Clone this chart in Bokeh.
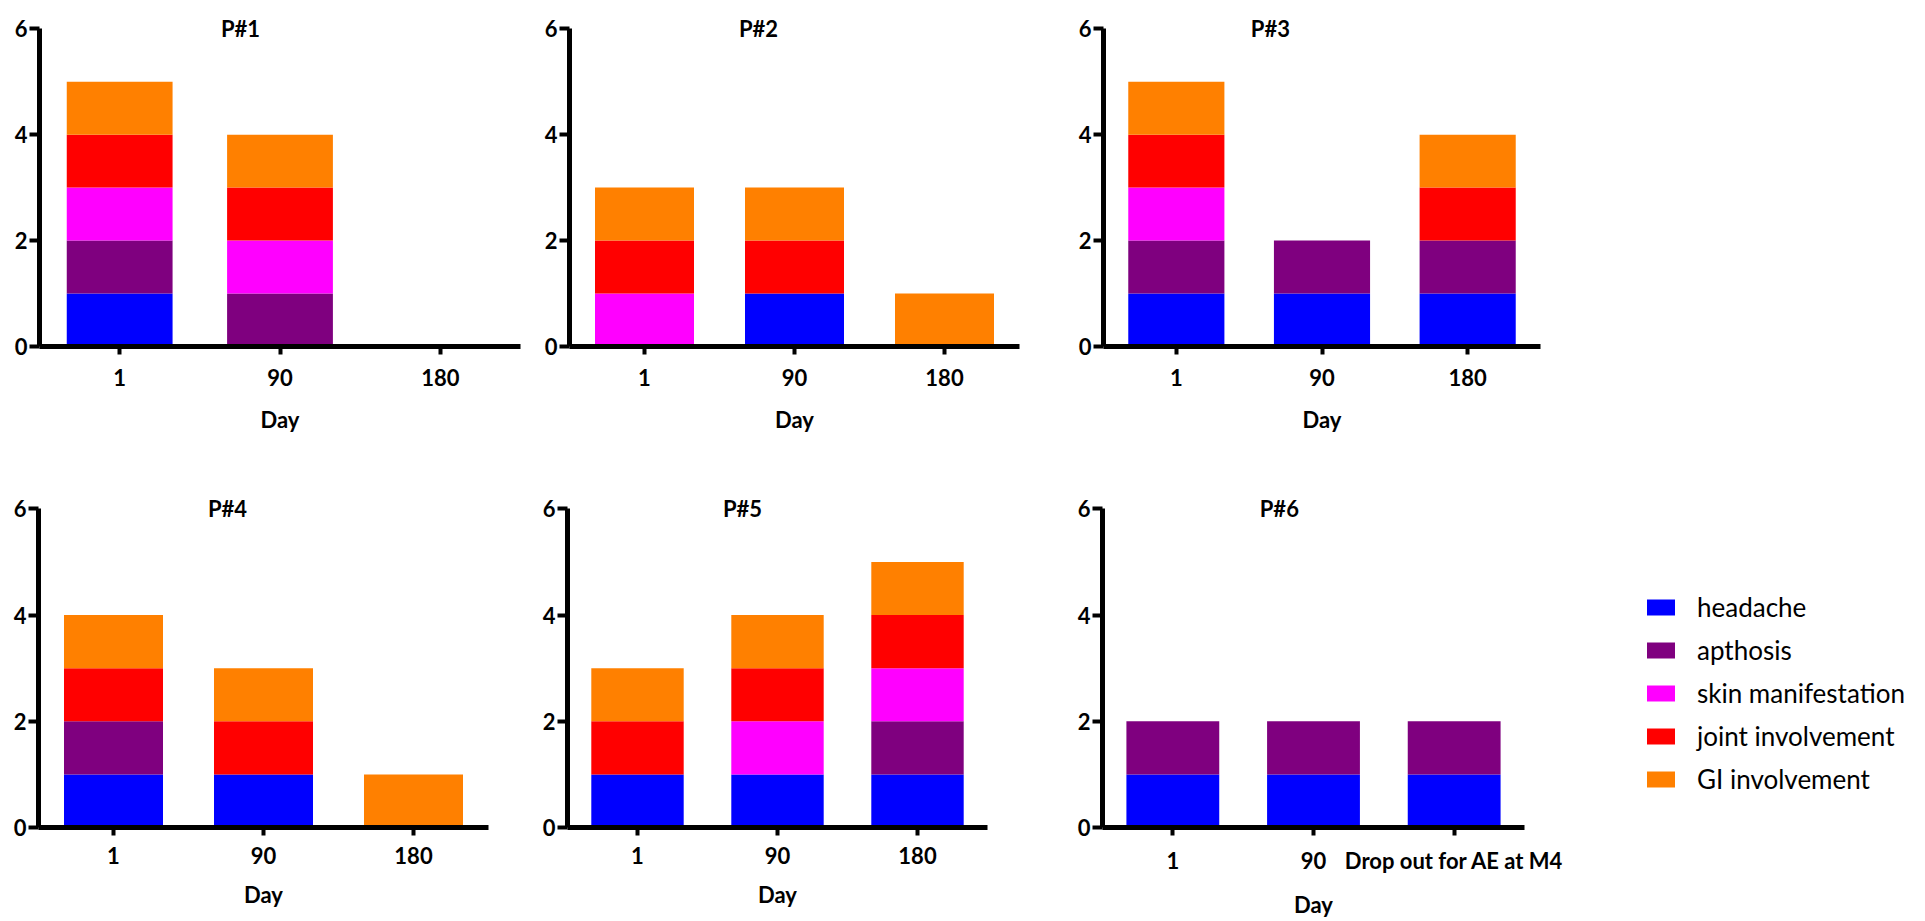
from bokeh.plotting import figure
from bokeh.models import FactorRange, Range1d, Label, Legend, LegendItem, FixedTicker, Spacer
from bokeh.layouts import row, column
from bokeh.embed import file_html
from bokeh.resources import INLINE

symptoms = ["headache", "apthosis", "skin manifestation", "joint involvement", "GI involvement"]
colors = ["#0000FF", "#7F007F", "#FF00FF", "#FF0000", "#FF8000"]
days = ["1", "90", "180"]
days_p6 = ["1", "90", "Drop out for AE at M4"]

# counts per symptom at each visit (day 1, 90, 180)
p1 = {"headache": [1, 0, 0], "apthosis": [1, 1, 0], "skin manifestation": [1, 1, 0],
      "joint involvement": [1, 1, 0], "GI involvement": [1, 1, 0]}
p2 = {"headache": [0, 1, 0], "apthosis": [0, 0, 0], "skin manifestation": [1, 0, 0],
      "joint involvement": [1, 1, 0], "GI involvement": [1, 1, 1]}
p3 = {"headache": [1, 1, 1], "apthosis": [1, 1, 1], "skin manifestation": [1, 0, 0],
      "joint involvement": [1, 0, 1], "GI involvement": [1, 0, 1]}
p4 = {"headache": [1, 1, 0], "apthosis": [1, 0, 0], "skin manifestation": [0, 0, 0],
      "joint involvement": [1, 1, 0], "GI involvement": [1, 1, 1]}
p5 = {"headache": [1, 1, 1], "apthosis": [0, 0, 1], "skin manifestation": [0, 1, 1],
      "joint involvement": [1, 1, 1], "GI involvement": [1, 1, 1]}
p6 = {"headache": [1, 1, 1], "apthosis": [1, 1, 1], "skin manifestation": [0, 0, 0],
      "joint involvement": [0, 0, 0], "GI involvement": [0, 0, 0]}

titles = ["P#1", "P#2", "P#3", "P#4", "P#5", "P#6"]
y_ticks = [0, 2, 4, 6]

FONT = "Lato"
YTOP = 6.25  # room above the 6 tick for the panel title


def style_bars_fig(p, title, title_x, lab_standoff, axlab_standoff):
    p.xgrid.grid_line_color = None
    p.ygrid.grid_line_color = None
    p.outline_line_color = None
    p.background_fill_color = "white"
    for ax in (p.xaxis[0], p.yaxis[0]):
        ax.axis_line_width = 5
        ax.axis_line_color = "black"
        ax.major_tick_line_width = 4
        ax.major_tick_line_color = "black"
        ax.major_tick_in = 0
        ax.minor_tick_line_color = None
        ax.major_label_text_font = FONT
        ax.major_label_text_font_style = "bold"
        ax.major_label_text_font_size = "22px"
        ax.major_label_text_color = "black"
    p.xaxis.major_tick_out = 8
    p.xaxis.major_label_standoff = lab_standoff
    p.xaxis.axis_label = "Day"
    p.xaxis.axis_label_text_font = FONT
    p.xaxis.axis_label_text_font_style = "bold"
    p.xaxis.axis_label_text_font_size = "22px"
    p.xaxis.axis_label_text_color = "black"
    p.xaxis.axis_label_standoff = axlab_standoff
    p.yaxis.ticker = FixedTicker(ticks=y_ticks)
    p.yaxis.bounds = (y_ticks[0], y_ticks[-1])
    p.yaxis.major_tick_out = 10
    p.yaxis.major_label_standoff = 2
    p.add_layout(Label(x=title_x, y=y_ticks[-1], text=title, text_align="center",
                       text_baseline="middle", text_font=FONT, text_font_style="bold",
                       text_font_size="22px", text_color="black"))


def make_panel(title, factors, data, width, height, bl, br, bt, bb, title_x, ls, als):
    p = figure(x_range=FactorRange(factors=factors), y_range=Range1d(0, YTOP),
               width=width, height=height, output_backend="svg", toolbar_location=None,
               min_border_left=bl, min_border_right=br, min_border_top=bt, min_border_bottom=bb)
    src = dict(day=factors)
    src.update(data)
    p.vbar_stack(symptoms, x="day", width=0.66, fill_color=colors, line_color=None, source=src)
    style_bars_fig(p, title, title_x, ls, als)
    return p


f1 = make_panel(titles[0], days, p1, 529, 488, 39, 9, 15, 139, 1.254, 14, 17)
f2 = make_panel(titles[1], days, p2, 534, 488, 40, 44, 15, 139, 1.26, 14, 17)
f3 = make_panel(titles[2], days, p3, 497, 488, 40, 20, 12, 142, 1.146, 14, 17)
f4 = make_panel(titles[3], days, p4, 527, 432, 38, 39, 7, 91, 1.26, 11, 14)
f5 = make_panel(titles[4], days, p5, 535, 432, 40, 75, 7, 91, 1.25, 11, 14)
f6 = make_panel(titles[5], days_p6, p6, 502, 432, 40, 40, 7, 91, 1.257, 11, 14)

# legend panel: the P#6 series are added here hidden, only to supply the legend swatches
f7 = figure(width=356, height=330, output_backend="svg", toolbar_location=None,
            x_axis_location=None, y_axis_location=None, min_border=0,
            x_range=FactorRange(factors=days_p6), y_range=Range1d(0, YTOP))
f7.xgrid.grid_line_color = None
f7.ygrid.grid_line_color = None
f7.outline_line_color = None
src7 = dict(day=days_p6)
src7.update(p6)
swatches = f7.vbar_stack(symptoms, x="day", width=0.66, fill_color=colors, line_color=None,
                         source=src7, visible=False)
legend = Legend(items=[LegendItem(label=s, renderers=[r]) for s, r in zip(symptoms, swatches)],
                location="top_left", padding=0, margin=79, border_line_color=None,
                background_fill_alpha=0, glyph_width=35, glyph_height=20,
                label_standoff=19, spacing=11, label_text_font=FONT,
                label_text_font_size="26px", label_text_color="black",
                click_policy="none")
f7.add_layout(legend)

layout = column(row(f1, f2, f3), row(f4, f5, f6, column(Spacer(width=356, height=24), f7)))
open("out.html", "w").write(file_html(layout, INLINE))
